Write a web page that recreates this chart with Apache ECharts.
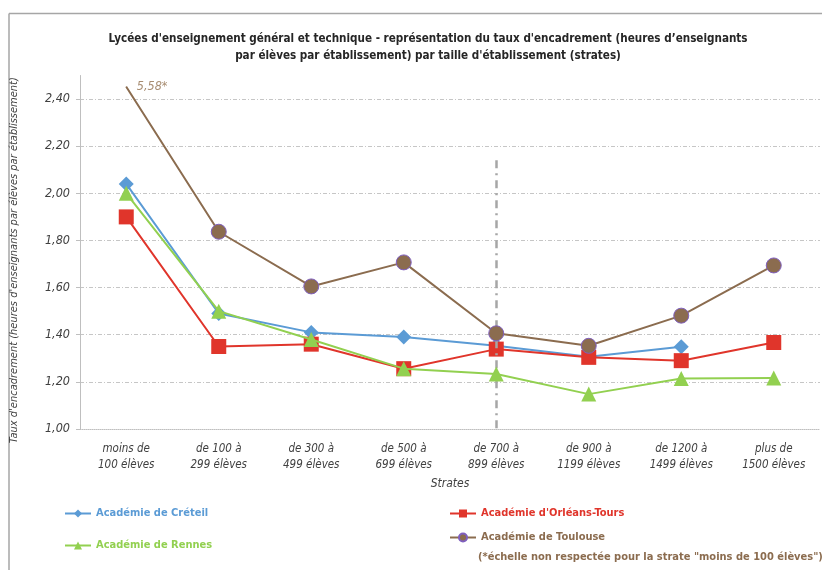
<!DOCTYPE html>
<html><head><meta charset="utf-8">
<script src="https://cdn.jsdelivr.net/npm/echarts@6/dist/echarts.min.js"></script>
<style>html,body{margin:0;padding:0;background:#fff}#c{width:822px;height:570px}</style>
</head><body><div id="c"></div>
<script>
var categories = ["moins de\n100 élèves","de 100 à\n299 élèves","de 300 à\n499 élèves","de 500 à\n699 élèves","de 700 à\n899 élèves","de 900 à\n1199 élèves","de 1200 à\n1499 élèves","plus de\n1500 élèves"];
var creteil  = [2.04, 1.49, 1.41, 1.39, 1.353, 1.307, 1.349, null];
var orleans  = [1.90, 1.35, 1.36, 1.256, 1.339, 1.304, 1.29, 1.367];
var rennes   = [2.00, 1.50, 1.38, 1.256, 1.233, 1.148, 1.214, 1.216];
var toulouse = [2.452, 1.837, 1.605, 1.707, 1.406, 1.353, 1.481, 1.694];
var toulouseFirstLabel = "5,58*";
var yTicks = {min: 1.0, max: 2.5, interval: 0.2};
var separatorCategory = 4;
var separatorRange = [2.14, 1.0];
var names = ["Académie de Créteil","Académie d'Orléans-Tours","Académie de Rennes","Académie de Toulouse"];
var note = '(*échelle non respectée pour la strate "moins de 100 élèves")';
var colors = ["#5b9bd5","#e0352b","#92d050","#8b6c4f"];

var FONT = "'Liberation Sans Narrow','DejaVu Sans Condensed','Open Sans',sans-serif";
var chart = echarts.init(document.getElementById('c'), null, {renderer:'canvas'});

function legend(i, left, top){
  return {show:true, data:[{name:names[i], textStyle:{color:colors[i]}}], left:left, top:top,
    itemWidth:26, itemHeight:10, padding:0,
    textStyle:{fontFamily:FONT, fontSize:11, fontWeight:'bold', color:colors[i]}};
}

var option = {
  animation:false,
  textStyle:{fontFamily:FONT},
  title:{text:"Lycées d'enseignement général et technique - représentation du taux d'encadrement (heures d’enseignants\npar élèves par établissement) par taille d'établissement (strates)",
    left:423, top:25, textAlign:'center',
    textStyle:{fontFamily:FONT, fontSize:11.6, fontWeight:'bold', color:'#262626', lineHeight:17}},
  legend:[legend(0,64,508), legend(1,449,508), legend(2,64,540), legend(3,449,532)],
  graphic:[
    {type:'line', shape:{x1:9,y1:13.5,x2:822,y2:13.5}, style:{stroke:'#a6a6a6', lineWidth:1.5}},
    {type:'line', shape:{x1:9,y1:13.5,x2:9,y2:570}, style:{stroke:'#a6a6a6', lineWidth:1.5}},
    {type:'text', left:478, top:552, style:{text:note, fill:colors[3], font:"bold 11px "+FONT}}
  ],
  grid:{left:80, right:2, top:75.5, bottom:141},
  xAxis:{type:'category', data:categories, boundaryGap:true,
    name:'Strates', nameLocation:'middle', nameGap:46,
    nameTextStyle:{fontStyle:'italic', fontSize:12, color:'#404040'},
    axisLine:{lineStyle:{color:'#bfbfbf', type:'dotted'}},
    axisTick:{show:false},
    axisLabel:{fontStyle:'italic', fontSize:11.5, color:'#404040', lineHeight:16, margin:12, interval:0}},
  yAxis:{type:'value', min:yTicks.min, max:yTicks.max, interval:yTicks.interval,
    name:"Taux d'encadrement (heures d'enseignants par élèves par établissement)",
    nameLocation:'middle', nameGap:60,
    nameTextStyle:{fontStyle:'italic', fontSize:11, color:'#404040', padding:[0,16,0,0]},
    axisLine:{show:true, lineStyle:{color:'#bfbfbf'}},
    axisTick:{show:true, length:4, lineStyle:{color:'#bfbfbf'}},
    axisLabel:{showMaxLabel:false, fontStyle:'italic', fontSize:12.5, color:'#404040', margin:10,
      formatter:function(v){return v.toFixed(2).replace('.',',');}},
    splitLine:{show:true, showMaxLine:false, showMinLine:false, lineStyle:{color:'#c6c6c6', width:1, type:[4,2,1,2]}}},
  series:[
    {name:names[0], type:'line', data:creteil, symbol:'diamond', symbolSize:15,
      lineStyle:{color:colors[0], width:2}, itemStyle:{color:colors[0]}, z:3,
      markLine:{silent:true, symbol:'none', label:{show:false},
        lineStyle:{color:'#a6a6a6', width:2.5, type:[8,5,2,5]},
        data:[[{coord:[separatorCategory, separatorRange[0]]},{coord:[separatorCategory, separatorRange[1]]}]]}},
    {name:names[1], type:'line', data:orleans, symbol:'rect', symbolSize:15,
      lineStyle:{color:colors[1], width:2}, itemStyle:{color:colors[1]}, z:4},
    {name:names[2], type:'line', data:rennes, symbol:'triangle', symbolSize:15,
      lineStyle:{color:colors[2], width:2}, itemStyle:{color:colors[2]}, z:5},
    {name:names[3], type:'line', data:toulouse.map(function(v,i){
        return i===0 ? {value:v, symbolSize:1, itemStyle:{borderWidth:0},
          label:{show:true, formatter:toulouseFirstLabel, position:'right', distance:10,
          fontStyle:'italic', fontSize:12.5, color:'#a88d72'}} : v;}),
      symbol:'circle', symbolSize:15,
      lineStyle:{color:colors[3], width:2}, itemStyle:{color:colors[3], borderColor:'#7f5fbf', borderWidth:1}, z:6}
  ]
};
chart.setOption(option);
</script></body></html>
